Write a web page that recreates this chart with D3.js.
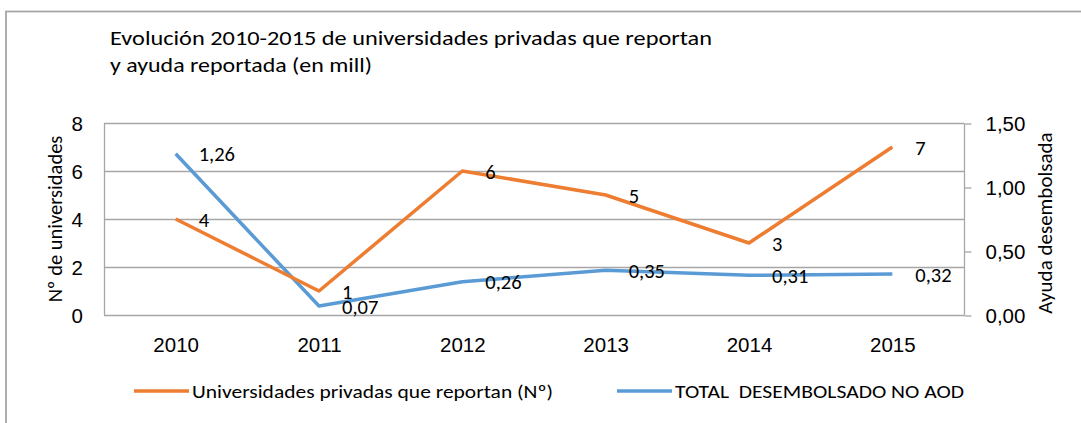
<!DOCTYPE html>
<html><head><meta charset="utf-8">
<script src="https://cdn.jsdelivr.net/npm/d3@7"></script>
<style>
body{margin:0;background:#fff;}
svg{display:block;font-family:Carlito,Calibri,Lato,"Open Sans",sans-serif;}
text{white-space:pre;}
</style></head>
<body><svg id="c" width="1081" height="423"></svg>
<script>
const years = ["2010","2011","2012","2013","2014","2015"];
const universidades = [4,1,6,5,3,7];
const ayuda = [1.26,0.07,0.26,0.35,0.31,0.32];
const leftTicks = [0,2,4,6,8];
const rightTicks = [0,0.5,1,1.5];
const titleLines = ["Evolución 2010-2015 de universidades privadas que reportan","y ayuda reportada (en mill)"];
const seriesNames = ["Universidades privadas que reportan (Nº)","TOTAL  DESEMBOLSADO NO AOD"];
const orange = "#ED7D31", blue = "#5B9BD5";

const svg = d3.select("#c");
const fmt = v => d3.format(".2f")(v).replace(".", ",");
const fmtLabel = v => String(v).replace(".", ",");

// outer border
svg.append("rect").attr("x",6).attr("y",11.5).attr("width",1100).attr("height",450)
  .attr("fill","none").attr("stroke","#a6a6a6").attr("stroke-width",1.8);

const L=104, R=964, T=123, B=315;
const x = d3.scalePoint().domain(years).range([L,R]).padding(0.5);
const yL = d3.scaleLinear().domain([0,8]).range([B,T]);
const yR = d3.scaleLinear().domain([0,1.5]).range([B,T]);

// gridlines
svg.append("g").selectAll("line").data(leftTicks).join("line")
  .attr("x1",L).attr("x2",R).attr("y1",d=>yL(d)+0.5).attr("y2",d=>yL(d)+0.5)
  .attr("stroke","#a6a6a6").attr("stroke-width",1.3);
svg.append("line").attr("x1",L+0.5).attr("x2",L+0.5).attr("y1",T).attr("y2",B)
  .attr("stroke","#a6a6a6").attr("stroke-width",1.3);
// right axis
const ra = svg.append("g").attr("transform",`translate(${R+0.5},0.5)`)
  .call(d3.axisRight(yR).tickValues(rightTicks).tickSize(7).tickPadding(14).tickFormat(fmt));
ra.select(".domain").attr("stroke","#a6a6a6").attr("stroke-width",1.3).attr("d",`M0,${T}V${B}`);
ra.selectAll(".tick line").attr("stroke","#a6a6a6").attr("stroke-width",1.3);
ra.selectAll(".tick text").attr("font-size",20.5).attr("fill","#000").style("font-family","inherit");

// left tick labels
const la = svg.append("g").attr("transform",`translate(${L},0.5)`)
  .call(d3.axisLeft(yL).tickValues(leftTicks).tickSize(0).tickPadding(21).tickFormat(d3.format("d")));
la.select(".domain").remove();
la.selectAll(".tick text").attr("font-size",20.5).attr("fill","#000").style("font-family","inherit");

// x labels
const xa = svg.append("g").attr("transform",`translate(0,${B})`)
  .call(d3.axisBottom(x).tickSize(0));
xa.select(".domain").remove();
xa.selectAll(".tick text").attr("font-size",20.5).attr("fill","#000").attr("y",37).attr("dy",0)
  .style("font-family","inherit");

// axis titles
svg.append("text").attr("transform",`translate(62,${(T+B)/2}) rotate(-90)`)
  .attr("text-anchor","middle").attr("font-size",20.5).text("Nº de universidades");
svg.append("text").attr("transform",`translate(1052,223) rotate(-90)`)
  .attr("text-anchor","middle").attr("font-size",21).text("Ayuda desembolsada");

// title
svg.append("g").selectAll("text").data(titleLines).join("text")
  .attr("x",110).attr("y",(d,i)=>45+i*27).attr("font-size",21)
  .attr("textLength",(d,i)=>i===0?602:262).attr("lengthAdjust","spacingAndGlyphs")
  .text(d=>d);

// lines
const lineL = d3.line().x((d,i)=>x(years[i])).y(d=>yL(d));
const lineR = d3.line().x((d,i)=>x(years[i])).y(d=>yR(d));
svg.append("path").datum(ayuda).attr("d",lineR).attr("fill","none")
  .attr("stroke",blue).attr("stroke-width",3.5).attr("stroke-linejoin","round");
svg.append("path").datum(universidades).attr("d",lineL).attr("fill","none")
  .attr("stroke",orange).attr("stroke-width",3.5).attr("stroke-linejoin","round");

// data labels
svg.append("g").selectAll("text").data(universidades).join("text")
  .attr("x",(d,i)=>x(years[i])+23).attr("y",(d)=>yL(d)+7.5)
  .attr("font-size",20.5).text(d=>fmtLabel(d));
svg.append("g").selectAll("text").data(ayuda).join("text")
  .attr("x",(d,i)=>x(years[i])+23).attr("y",(d)=>yR(d)+7.5)
  .attr("font-size",20.5).text(d=>fmtLabel(d.toFixed(2)));

// legend
const lg = svg.append("g");
[[134,orange,seriesNames[0],361],[617,blue,seriesNames[1],289]].forEach(([lx,c,t,w])=>{
  lg.append("line").attr("x1",lx).attr("x2",lx+55).attr("y1",391).attr("y2",391)
    .attr("stroke",c).attr("stroke-width",3.5);
  lg.append("text").attr("x",lx+58).attr("y",398).attr("font-size",19)
    .attr("textLength",w).attr("lengthAdjust","spacingAndGlyphs").text(t);
});
</script></body></html>
